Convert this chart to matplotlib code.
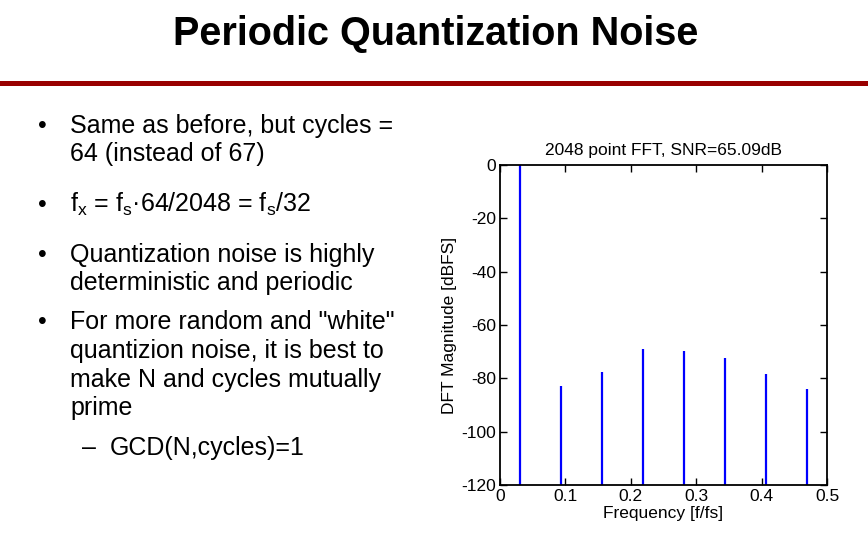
import matplotlib
matplotlib.use("Agg")
import matplotlib.pyplot as plt

plt.rcParams["font.family"] = ["Liberation Sans", "DejaVu Sans"]
plt.rcParams["mathtext.default"] = "regular"
plt.rcParams["axes.unicode_minus"] = False

# spectrum lines
freqs = [0.0312, 0.0938, 0.1562, 0.2188, 0.2812, 0.3438, 0.4062, 0.4688]
mags = [0.0, -82.8, -77.5, -68.9, -69.6, -72.5, -78.5, -84.1]

x_ticks = [0, 0.1, 0.2, 0.3, 0.4, 0.5]
x_ticklabels = ["0", "0.1", "0.2", "0.3", "0.4", "0.5"]
y_ticks = [0, -20, -40, -60, -80, -100, -120]

slide_title = "Periodic Quantization Noise"
plot_title = "2048 point FFT, SNR=65.09dB"

# (text, bullet mark, indent level, baseline y in px)
bullet_lines = [
    ("Same as before, but cycles =", "•", 0, 133),
    ("64 (instead of 67)", None, 0, 161),
    (r"f$_{x}$ = f$_{s}$·64/2048 = f$_{s}$/32", "•", 0, 212),
    ("Quantization noise is highly", "•", 0, 262),
    ("deterministic and periodic", None, 0, 290),
    ('For more random and "white"', "•", 0, 329),
    ("quantizion noise, it is best to", None, 0, 358),
    ("make N and cycles mutually", None, 0, 387),
    ("prime", None, 0, 415),
    ("GCD(N,cycles)=1", "–", 1, 455),
]

W, H = 868, 538
fig = plt.figure(figsize=(W / 100, H / 100), dpi=100)


def fx(px):
    return px / W


def fy(py):
    return 1 - py / H


# slide header
fig.text(fx(436), fy(45), slide_title, ha="center", va="baseline",
         fontsize=28.5, fontweight="bold")
fig.add_artist(plt.Line2D([0, 1], [fy(82.5), fy(82.5)], color="#990000",
                          linewidth=3.6, transform=fig.transFigure))

# bullets
for txt, mark, level, base in bullet_lines:
    if level == 0:
        mark_x, text_x = 38, 70
    else:
        mark_x, text_x = 82, 110
    if mark is not None:
        fig.text(fx(mark_x), fy(base), mark, ha="left", va="baseline", fontsize=18)
    fig.text(fx(text_x), fy(base), txt, ha="left", va="baseline", fontsize=18)

# FFT plot
ax = fig.add_axes([fx(500), fy(485), fx(827) - fx(500), fy(165) - fy(485)])
ax.vlines(freqs, -120, mags, color="#0000ff", linewidth=1.6)
ax.set_xlim(0, 0.5)
ax.set_ylim(-120, 0)
ax.set_xticks(x_ticks)
ax.set_xticklabels(x_ticklabels)
ax.set_yticks(y_ticks)
ax.tick_params(direction="in", top=True, right=True, length=5, labelsize=12.5,
               width=1, pad=3)
for sp in ax.spines.values():
    sp.set_linewidth(1.3)
ax.set_title(plot_title, fontsize=12.5, pad=7)
ax.set_xlabel("Frequency [f/fs]", fontsize=12.5, labelpad=1)
ax.set_ylabel("DFT Magnitude [dBFS]", fontsize=12.5, labelpad=3)

fig.savefig("out.png", dpi=100)
